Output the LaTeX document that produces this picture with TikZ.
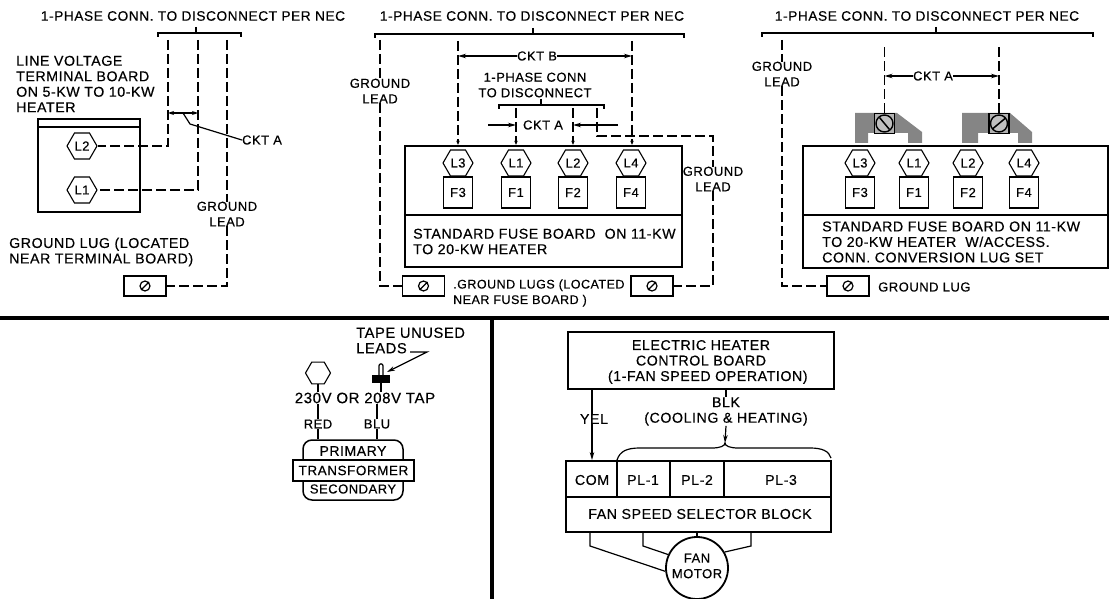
\documentclass[tikz,border=0pt]{standalone}
\usepackage{fontspec}
\setmainfont[LetterSpace=4,FakeBold=0.4]{Liberation Sans}
\usetikzlibrary{shapes.geometric,arrows.meta,calc}
\tikzset{
	lbl/.style={inner sep=0pt, align=center, font=\fontsize{13}{15.5}\selectfont},
	lblleft/.style={lbl, align=left, anchor=west},
	widetxt/.style={font=\fontsize{14.2}{15.5}\selectfont},
	titletxt/.style={font=\fontsize{13.7}{15.5}\selectfont},
	hexnode/.style={draw, regular polygon, regular polygon sides=6, minimum size=30pt, inner sep=0pt, line width=1.1pt, font=\fontsize{13}{15}\selectfont},
	fusebox/.style={draw, minimum width=29pt, minimum height=31pt, inner sep=0pt, line width=1.2pt, font=\fontsize{13}{15}\selectfont},
	lugbox/.style={draw, minimum width=42pt, minimum height=20pt, inner sep=0pt, line width=1.2pt},
	heavybox/.style={draw, line width=2.4pt, inner sep=0pt},
	leadline/.style={line width=1.2pt, dash pattern=on 10pt off 4pt},
	wirethin/.style={line width=1.2pt},
	tip/.style={-{Stealth[length=8pt,width=4.5pt]}}
}
\begin{document}
\begin{tikzpicture}[x=1pt,y=-1pt]
	\useasboundingbox (0,0) rectangle (1109,599);

	\foreach \xa/\xb/\xs/\ya in {158/241/196/33, 375/684/533/34, 762/1093/936/33, 499/604/541/105}
		\draw[wirethin] (\xa,\ya+4) -- (\xa,\ya) -- (\xb,\ya) -- (\xb,\ya+4) (\xs,\ya-6) -- (\xs,\ya);

	\node[lbl, titletxt] (titleA) at (193,16) {1-PHASE CONN. TO DISCONNECT PER NEC};
	\node[lbl, titletxt] (titleB) at (532,16) {1-PHASE CONN. TO DISCONNECT PER NEC};
	\node[lbl, titletxt] (titleC) at (927,16) {1-PHASE CONN. TO DISCONNECT PER NEC};

	\node[lblleft, widetxt] (voltA) at (16,84) {LINE VOLTAGE\\TERMINAL BOARD\\ON 5-KW TO 10-KW\\HEATER};
	\node[lblleft, widetxt] (lugtxtA) at (9,252) {GROUND LUG (LOCATED\\NEAR TERMINAL BOARD)};
	\node[lbl] (cktA) at (262,140) {CKT A};
	\node[lbl] (gndA) at (227,214) {GROUND\\LEAD};
	\node[draw, minimum width=102pt, minimum height=93pt, line width=1.8pt] (termA) at (89,165.5) {};
	\draw[line width=1.8pt] (termA.north west |- 0,127) -- (termA.north east |- 0,127);

	\foreach \nm/\txt/\x/\y in {hAb/L2/82/146, hAa/L1/82/190, hBc/L3/458/163, hBa/L1/516/163, hBb/L2/573/163, hBd/L4/631/163, hCc/L3/860/163, hCa/L1/914/163, hCb/L2/968/163, hCd/L4/1024/163}
		\node[hexnode] (\nm) at (\x,\y) {\txt};

	\foreach \nm/\txt/\x in {fBc/F3/458, fBa/F1/516, fBb/F2/573, fBd/F4/631, fCc/F3/860, fCa/F1/914, fCb/F2/968, fCd/F4/1024}
		\node[fusebox] (\nm) at (\x,192.5) {\txt};

	\foreach \nm/\x in {lugA/145, lugBa/423.5, lugBb/652, lugC/848}
		\node[lugbox] (\nm) at (\x,286) {};
	\foreach \nm in {lugA, lugBa, lugBb, lugC}
		\draw[line width=1.2pt] (\nm) circle (5) ($(\nm)+(-4,4)$) -- ($(\nm)+(4,-4)$);

	\coordinate (topAb) at (168,40);
	\coordinate (topAa) at (198,40);
	\coordinate (topAg) at (227,40);
	\draw[leadline] (topAb) |- (hAb.east);
	\draw[leadline] (topAa) |- (hAa.east);
	\draw[leadline] (topAg) -- (gndA.north -| topAg);
	\draw[leadline] (gndA.south) |- (lugA.east);
	\draw[wirethin, {Stealth[length=6pt,width=4pt]}-{Stealth[length=6pt,width=4pt]}] (168,113) -- (198,113);
	\coordinate (legA) at (190,124);
	\draw[wirethin] (183,113) -- (legA) -- (cktA.west);

	\node[heavybox, minimum width=277pt, minimum height=121pt] (boardB) at (543.5,206.5) {};
	\draw[wirethin] (boardB.west |- 0,215) -- (boardB.east |- 0,215);
	\node[lblleft, widetxt] (txtB) at (413,241.5) {STANDARD FUSE BOARD\ \ ON 11-KW\\TO 20-KW HEATER};
	\node[lbl] (gndBa) at (380,91) {GROUND\\LEAD};
	\node[lbl] (gndBb) at (713,179) {GROUND\\LEAD};
	\node[lblleft, font=\fontsize{12.5}{15.5}\selectfont] (lugtxtB) at (453,293) {.GROUND LUGS (LOCATED\\ NEAR FUSE BOARD )};
	\node[lbl] (phaseB) at (535,85) {1-PHASE CONN\\TO DISCONNECT};
	\node[lbl] (cktBb) at (537,56) {CKT B};
	\node[lbl] (cktBa) at (543,125) {CKT A};

	\coordinate (topBg) at (380,40);
	\coordinate (topBc) at (458,41);
	\coordinate (topBd) at (632,41);
	\coordinate (topBa) at (516,108);
	\coordinate (topBb) at (573,108);
	\coordinate (topBe) at (597,108);
	\draw[leadline] (topBg) -- (gndBa.north -| topBg);
	\draw[leadline] (gndBa.south) |- (lugBa.west);
	\draw[leadline] (topBe) |- (gndBb.north |- 0,136) -- (gndBb.north);
	\draw[leadline] (gndBb.south) |- (lugBb.east);
	\foreach \top in {topBc, topBa, topBb, topBd}
		\draw[leadline, -{Stealth[length=4pt,width=3.5pt]}] (\top) -- (\top |- boardB.north);
	\coordinate (endBc) at (topBc |- cktBb);
	\coordinate (endBd) at (topBd |- cktBb);
	\draw[wirethin, tip] (cktBb.west) -- (endBc);
	\draw[wirethin, tip] (cktBb.east) -- (endBd);
	\coordinate (startBa) at (488,125);
	\coordinate (startBb) at (618,125);
	\draw[wirethin, tip] (startBa) -- (topBa |- startBa);
	\draw[wirethin, tip] (startBb) -- (topBb |- startBb);

	\node[lbl] (gndC) at (782,74) {GROUND\\LEAD};
	\node[lbl] (cktC) at (933,76) {CKT A};
	\foreach \xl/\ll/\rl/\sl/\xr in {855/868/908/897/922, 962/978/1018/1010/1032}
		\fill[black!48] (\xl,113) -- (\sl,113) -- (\xr,132) -- (\xr,143) -- (\rl,143) -- (\rl,133) -- (\ll,133) -- (\ll,143) -- (\xl,143) -- cycle;
	\node[draw, fill=black!30, minimum size=20pt, inner sep=0pt, line width=1.2pt] (screwCa) at (884.5,123.5) {};
	\node[draw, fill=black!30, minimum size=20pt, inner sep=0pt, line width=1.2pt] (screwCb) at (999,123.5) {};
	\draw[line width=1.4pt, fill=black!25] (screwCa) circle (8.5);
	\draw[line width=1.4pt, fill=black!25] (screwCb) circle (8.5);
	\draw[line width=1.5pt] ($(screwCa)+(-5,-6)$) -- ($(screwCa)+(5,6)$);
	\draw[line width=1.5pt] ($(screwCb)+(-6,5)$) -- ($(screwCb)+(6,-5)$);
	\node[heavybox, minimum width=305pt, minimum height=122pt] (boardC) at (955.5,207) {};
	\draw[wirethin] (boardC.west |- 0,215) -- (boardC.east |- 0,215);
	\node[lblleft, widetxt] (txtC) at (822,242) {STANDARD FUSE BOARD ON 11-KW\\TO 20-KW HEATER\ \ W/ACCESS.\\CONN. CONVERSION LUG SET};
	\node[lblleft] (lugtxtC) at (878,287) {GROUND LUG};
	\coordinate (topCg) at (782,40);
	\draw[leadline] (topCg) -- (gndC.north -| topCg);
	\draw[leadline] (gndC.south) |- (lugC.west);
	\draw[leadline] (screwCa.north) -- (screwCa.north |- 0,45);
	\draw[leadline] (screwCb.north) -- (screwCb.north |- 0,45);
	\coordinate (endCa) at (screwCa |- cktC);
	\coordinate (endCb) at (screwCb |- cktC);
	\draw[wirethin, tip] (cktC.west) -- (endCa);
	\draw[wirethin, tip] (cktC.east) -- (endCb);

	\draw[line width=3.2pt] (0,318) -- (1109,318);
	\draw[line width=3.2pt] (492,318) -- (492,599);

	\node[lblleft, font=\fontsize{14.7}{15.5}\selectfont] (tapetxt) at (356,340.5) {TAPE UNUSED\\LEADS};
	\node[hexnode, minimum size=25pt] (hexRed) at (318,373) {};
	\node[fill, minimum width=18pt, minimum height=8pt, inner sep=0pt] (plugBlu) at (381,379) {};
	\draw[wirethin, rounded corners=2pt] (plugBlu.north) ++(-2,0) -- ++(0,-11) -- ++(4,0) -- ++(0,11);
	\node[lbl, font=\fontsize{15}{15.5}\selectfont] (tapV) at (365,398) {230V OR 208V TAP};
	\node[lbl] (redtxt) at (318,424) {RED};
	\node[lbl] (blutxt) at (377,424) {BLU};
	\node[draw, rounded corners=9pt, minimum width=100pt, minimum height=60pt, line width=1.5pt] (xfmr) at (353,470) {};
	\node[draw, fill=white, minimum width=121pt, minimum height=21pt, inner sep=0pt, line width=2pt, font=\fontsize{13.5}{15}\selectfont] (xfmrmid) at (353.5,470.5) {TRANSFORMER};
	\node[lbl, font=\fontsize{14}{15}\selectfont] (primtxt) at (353,451) {PRIMARY};
	\node[lbl] (sectxt) at (353,489) {SECONDARY};
	\coordinate (arrowend) at (387,372);
	\draw[wirethin, tip] (410,352) -- (427,352) -- (arrowend);
	\draw[wirethin] (hexRed.south) -- (hexRed.south |- tapV.north);
	\draw[wirethin] (hexRed.south |- tapV.south) -- (redtxt.north);
	\draw[wirethin] (redtxt.south) -- (redtxt.south |- xfmr.north);
	\draw[wirethin] (plugBlu.south) -- (plugBlu.south |- tapV.north);
	\draw[wirethin] (blutxt.north) -- (blutxt.north |- tapV.south);
	\draw[wirethin] (blutxt.south) -- (blutxt.south |- xfmr.north);

	\node[heavybox, line width=1.8pt, minimum width=266pt, minimum height=57pt] (ctrl) at (701,360.5) {};
	\node[lbl, widetxt] (ctrltxt) at (701,362) {ELECTRIC HEATER\\CONTROL BOARD\\\ \ \ (1-FAN SPEED OPERATION)};
	\node[heavybox, line width=1.8pt, minimum width=265pt, minimum height=71pt] (block) at (698.5,496.5) {};
	\draw[line width=1.2pt] (block.west |- 0,497) -- (block.east |- 0,497);
	\foreach \x in {617,670,724}
		\draw[line width=1.2pt] (\x,461) -- (\x,497);
	\foreach \nm/\txt/\x in {comtxt/COM/592, platxt/PL-1/643, plbtxt/PL-2/697, plctxt/PL-3/781}
		\node[lbl, widetxt] (\nm) at (\x,480) {\txt};
	\node[lbl, widetxt] (blocktxt) at (700,514) {FAN SPEED SELECTOR BLOCK};
	\node[draw, circle, minimum size=62pt, inner sep=0pt, line width=1.8pt] (motor) at (697,568) {};
	\node[lbl] (motortxt) at (697,566) {FAN\\MOTOR};
	\node[lbl, widetxt] (yeltxt) at (594,419) {YEL};
	\node[lbl, widetxt] (blktxt) at (726,411.5) {BLK\\(COOLING \& HEATING)};
	\coordinate (braceL) at (617,460);
	\coordinate (braceM) at (725,443);
	\coordinate (braceR) at (831,458);
	\draw[wirethin] (ctrl.south -| 592,0) -- (yeltxt.north -| 592,0);
	\draw[wirethin, tip] (yeltxt.south -| 592,0) -- (block.north -| 592,0);
	\draw[wirethin] (ctrl.south -| blktxt) -- (blktxt.north);
	\draw[wirethin, tip] (blktxt.south) -- (braceM);
	\draw[wirethin] (braceL) .. controls (620,451) and (627,448) .. (640,448) -- (712,448) .. controls (720,448) and (725,446) .. (braceM) .. controls (725,446) and (730,448) .. (738,448) -- (810,448) .. controls (822,448) and (829,451) .. (braceR);
	\coordinate (wireA) at (590,546);
	\coordinate (wireB) at (643,546);
	\coordinate (wireC) at (751,546);
	\draw[wirethin] (block.south -| wireA) -- (wireA) -- (motor.186);
	\draw[wirethin] (block.south -| wireB) -- (wireB) -- (motor.155);
	\draw[wirethin] (block.south -| motor) -- (motor.north);
	\draw[wirethin] (block.south -| wireC) -- (wireC) -- (motor.30);
\end{tikzpicture}
\end{document}
